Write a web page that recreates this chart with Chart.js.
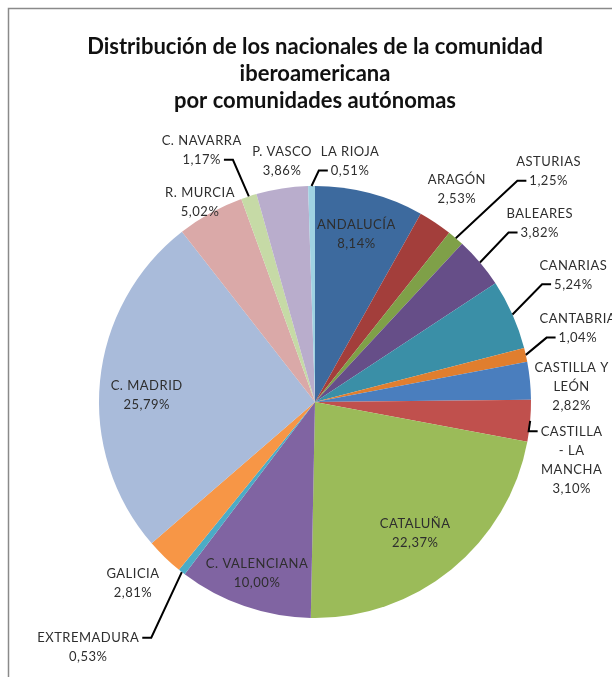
<!DOCTYPE html>
<html>
<head>
<meta charset="utf-8">
<script src="https://cdn.jsdelivr.net/npm/chart.js@4.4.1/dist/chart.umd.min.js"></script>
<style>
  html, body { margin: 0; padding: 0; background: #fff; }
  canvas { display: block; }
</style>
</head>
<body>
<canvas id="pieChart" width="612" height="677"></canvas>
<script>
var comunidades = ['ANDALUCÍA', 'ARAGÓN', 'ASTURIAS', 'BALEARES', 'CANARIAS', 'CANTABRIA',
  'CASTILLA Y LEÓN', 'CASTILLA - LA MANCHA', 'CATALUÑA', 'C. VALENCIANA', 'EXTREMADURA',
  'GALICIA', 'C. MADRID', 'R. MURCIA', 'C. NAVARRA', 'P. VASCO', 'LA RIOJA'];
var porcentajes = [8.14, 2.53, 1.25, 3.82, 5.24, 1.04, 2.82, 3.10, 22.37, 10.00, 0.53,
  2.81, 25.79, 5.02, 1.17, 3.86, 0.51];
var colores = ['#3D6A9E', '#A33E3B', '#7FA048', '#664E88', '#3A8FA7', '#E07E2E',
  '#4A7EBE', '#C0504D', '#9BBB59', '#8064A2', '#4BACC6', '#F79646',
  '#A9BBDA', '#DAA9A8', '#C6DAA6', '#B9ADCC', '#A0D2E2'];
var titulo = ['Distribución de los nacionales de la comunidad', 'iberoamericana', 'por comunidades autónomas'];

// Excel wrapped these two names inside the label box
var cortes = {
  'CASTILLA Y LEÓN': ['CASTILLA Y', 'LEÓN'],
  'CASTILLA - LA MANCHA': ['CASTILLA', '- LA', 'MANCHA']
};

// label placement: angle shift from slice middle (deg), distance as share of radius, leader line
var colocacion = [
  [-0.8, 0.80, false], [-0.2, 1.185, false], [4.7, 1.52, true], [1.7, 1.33, true],
  [-2.3, 1.333, true], [-3.1, 1.264, true], [2.3, 1.19, false], [7.7, 1.218, true],
  [1.7, 0.763, false], [-0.4, 0.836, false], [4.7, 1.546, true], [1.0, 1.19, false],
  [-3.2, 0.78, false], [-1.0, 1.065, false], [-6.4, 1.278, true], [1.0, 1.126, false],
  [9.2, 1.127, true]
];

function pct(v) {
  return v.toFixed(2).replace('.', ',') + '%';
}

var marco = {
  id: 'marco',
  beforeDraw: function (chart) {
    var ctx = chart.ctx;
    ctx.save();
    ctx.fillStyle = '#fff';
    ctx.fillRect(0, 0, chart.width, chart.height);
    ctx.strokeStyle = '#8a8a8a';
    ctx.lineWidth = 1.5;
    ctx.strokeRect(8.5, 8.5, chart.width + 20, chart.height + 20);
    ctx.restore();
  }
};

var etiquetas = {
  id: 'etiquetas',
  afterDatasetsDraw: function (chart) {
    var ctx = chart.ctx;
    var meta = chart.getDatasetMeta(0);
    var lh = 19;
    ctx.save();
    ctx.font = '13px Lato, "Open Sans", sans-serif';
    ctx.letterSpacing = '0.5px';
    ctx.textAlign = 'center';
    ctx.textBaseline = 'middle';
    meta.data.forEach(function (arc, i) {
      var R = arc.outerRadius;
      var mid = (arc.startAngle + arc.endAngle) / 2;
      var cfg = colocacion[i];
      var a = mid + cfg[0] * Math.PI / 180;
      var cx = arc.x + Math.cos(a) * R * cfg[1];
      var cy = arc.y + Math.sin(a) * R * cfg[1];
      var lines = (cortes[comunidades[i]] || [comunidades[i]]).concat([pct(porcentajes[i])]);
      var y0 = cy - (lines.length - 1) * lh / 2;
      ctx.fillStyle = '#2e2e2e';
      lines.forEach(function (t, k) {
        ctx.fillText(t, cx, y0 + k * lh);
      });
      if (cfg[2]) {
        var px = arc.x + Math.cos(mid) * R;
        var py = arc.y + Math.sin(mid) * R;
        var best = 0;
        lines.forEach(function (t, k) {
          if (Math.abs(y0 + k * lh - py) < Math.abs(y0 + best * lh - py)) best = k;
        });
        var ly = y0 + best * lh;
        var w = ctx.measureText(lines[best]).width;
        var side = cx > px ? -1 : 1;
        var ax = cx + side * (w / 2 + 3);
        var ex = ax + side * 9;
        ctx.strokeStyle = '#000';
        ctx.lineWidth = 2;
        ctx.beginPath();
        ctx.moveTo(px, py);
        ctx.lineTo(ex, ly);
        ctx.lineTo(ax, ly);
        ctx.stroke();
      }
    });
    ctx.restore();
  }
};

var ctx = document.getElementById('pieChart').getContext('2d');
var pieChart = new Chart(ctx, {
  type: 'pie',
  data: {
    labels: comunidades,
    datasets: [{
      data: porcentajes,
      backgroundColor: colores,
      borderWidth: 0
    }]
  },
  options: {
    responsive: false,
    animation: false,
    layout: { padding: { top: 0, bottom: 59, left: 18, right: 0 } },
    plugins: {
      legend: { display: false },
      tooltip: { enabled: false },
      title: {
        display: true,
        text: titulo,
        color: '#111',
        font: { family: 'Lato, "Open Sans", sans-serif', size: 22, weight: 'bold', lineHeight: 27 / 22 },
        padding: { top: 33.5, bottom: 71.5 }
      }
    }
  },
  plugins: [marco, etiquetas]
});
</script>
</body>
</html>
